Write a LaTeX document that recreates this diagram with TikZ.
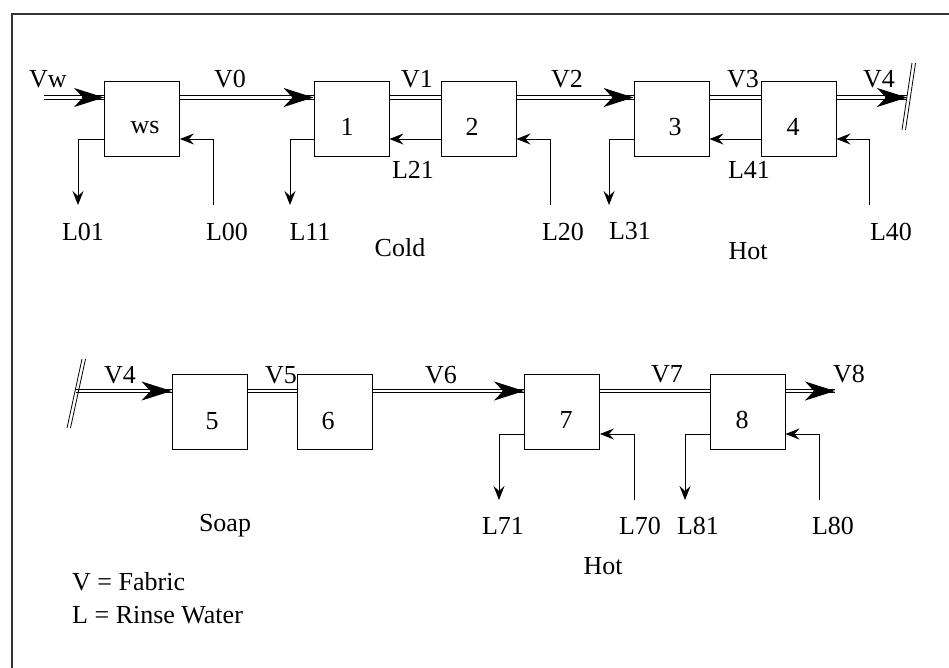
\documentclass[tikz,border=0pt]{standalone}
\usepackage{fontspec}
\setmainfont{Liberation Serif}
\usetikzlibrary{arrows.meta,calc}
\tikzset{
  box/.style={draw, line width=0.9pt, minimum width=75pt, minimum height=75pt, inner sep=0pt},
  lbl/.style={inner sep=0pt},
  fab/.style={line width=0.9pt},
  fabtip/.style={line width=0.9pt, -{Stealth[length=30pt,width=19pt,inset=9pt]}},
  rinse/.style={line width=0.9pt},
  rinsearr/.style={rinse, -{Stealth[length=14pt,width=11pt,inset=5pt]}},
  brk/.style={line width=0.8pt},
  frame/.style={line width=1.4pt, black!80}
}
\begin{document}
\begin{tikzpicture}[x=1pt,y=-1pt,font=\fontsize{26}{30}\selectfont]
\useasboundingbox (0,0) rectangle (949,668);
\draw[frame] (949,14) -- (12,14) -- (12,668);

% row levels
\coordinate (r1) at (0,97.5);
\coordinate (r1a) at (0,95.9);
\coordinate (r1b) at (0,99.1);
\coordinate (r1L) at (0,139);
\coordinate (r2) at (0,391);
\coordinate (r2a) at (0,389.4);
\coordinate (r2b) at (0,392.6);
\coordinate (r2L) at (0,434);

% boxes row 1
\node[box] (ws) at (142,118.5) {};
\node[box] (b1) at (351.5,118.5) {};
\node[box] (b2) at (478.5,118.5) {};
\node[box] (b3) at (671.5,118.5) {};
\node[box] (b4) at (798.5,118.5) {};
% boxes row 2
\node[box] (b5) at (209.5,412) {};
\node[box] (b6) at (335,412) {};
\node[box] (b7) at (562,412) {};
\node[box] (b8) at (747.5,412) {};

% box texts
\node[lbl] (tws) at (145,128) {ws};
\node[lbl] (t1) at (347,127) {1};
\node[lbl] (t2) at (472,127) {2};
\node[lbl] (t3) at (675,127) {3};
\node[lbl] (t4) at (793,127) {4};
\node[lbl] (t5) at (212,421) {5};
\node[lbl] (t6) at (328,421) {6};
\node[lbl] (t7) at (566,420) {7};
\node[lbl] (t8) at (742,420) {8};

% free ends
\coordinate (vwin) at (44,97.5);
\coordinate (brk1) at (907,97.5);
\coordinate (brk2) at (76,391);
\coordinate (v8out) at (835,391);
\coordinate (l01) at (78,205);
\coordinate (l00) at (213,205);
\coordinate (l11) at (290,205);
\coordinate (l20) at (550,205);
\coordinate (l31) at (609,205);
\coordinate (l40) at (869,205);
\coordinate (l71) at (499,500);
\coordinate (l70) at (634,500);
\coordinate (l81) at (685,500);
\coordinate (l80) at (819,500);

% fabric flow row 1 (double lines drawn as two strokes)
\foreach \p/\q in {vwin/ws.west, ws.east/b1.west, b1.east/b2.west, b2.east/b3.west, b3.east/b4.west, b4.east/brk1}{
  \draw[fab] (\p |- r1a) -- (\q |- r1a);
  \draw[fab] (\p |- r1b) -- (\q |- r1b);
}
\foreach \q in {ws.west, b1.west, b3.west, brk1}{
  \draw[fabtip] ($(\q |- r1)+(-22,0)$) -- (\q |- r1);
}
% break marks
\draw[brk] (902,130) -- (912,63);
\draw[brk] (905.5,130) -- (915.5,63);
\draw[brk] (67,428) -- (82,359);
\draw[brk] (70.5,428) -- (85.5,359);
% fabric flow row 2
\foreach \p/\q in {brk2/b5.west, b5.east/b6.west, b6.east/b7.west, b7.east/b8.west, b8.east/v8out}{
  \draw[fab] (\p |- r2a) -- (\q |- r2a);
  \draw[fab] (\p |- r2b) -- (\q |- r2b);
}
\foreach \q in {b5.west, b7.west, v8out}{
  \draw[fabtip] ($(\q |- r2)+(-22,0)$) -- (\q |- r2);
}

% rinse water row 1
\draw[rinsearr] (ws.west |- r1L) -| (l01);
\draw[rinsearr] (l00) |- (ws.east |- r1L);
\draw[rinsearr] (b1.west |- r1L) -| (l11);
\draw[rinsearr] (b2.west |- r1L) -- (b1.east |- r1L);
\draw[rinsearr] (l20) |- (b2.east |- r1L);
\draw[rinsearr] (b3.west |- r1L) -| (l31);
\draw[rinsearr] (b4.west |- r1L) -- (b3.east |- r1L);
\draw[rinsearr] (l40) |- (b4.east |- r1L);
% rinse water row 2
\draw[rinsearr] (b7.west |- r2L) -| (l71);
\draw[rinsearr] (l70) |- (b7.east |- r2L);
\draw[rinsearr] (b8.west |- r2L) -| (l81);
\draw[rinsearr] (l80) |- (b8.east |- r2L);

% labels row 1
\node[lbl] (lVw) at (48,79) {Vw};
\node[lbl] (lV0) at (230,79) {V0};
\node[lbl] (lV1) at (417,79) {V1};
\node[lbl] (lV2) at (567,79) {V2};
\node[lbl] (lV3) at (743,79) {V3};
\node[lbl] (lV4) at (879,79) {V4};
\node[lbl] (lL01) at (83,231.5) {L01};
\node[lbl] (lL00) at (227,231.5) {L00};
\node[lbl] (lL11) at (310,231.5) {L11};
\node[lbl] (lL21) at (413,170) {L21};
\node[lbl] (lL20) at (563,231.5) {L20};
\node[lbl] (lL31) at (630,231.5) {L31};
\node[lbl] (lL41) at (749,170) {L41};
\node[lbl] (lL40) at (891,231.5) {L40};
\node[lbl] (lcold) at (400,248) {Cold};
\node[lbl] (lhot1) at (748,251) {Hot};
% labels row 2
\node[lbl] (lV4b) at (120,375) {V4};
\node[lbl] (lV5) at (281,375) {V5};
\node[lbl] (lV6) at (441,375) {V6};
\node[lbl] (lV7) at (667,374) {V7};
\node[lbl] (lV8) at (849,374) {V8};
\node[lbl] (lL71) at (503,526) {L71};
\node[lbl] (lL70) at (640,526) {L70};
\node[lbl] (lL81) at (698,526) {L81};
\node[lbl] (lL80) at (833,526) {L80};
\node[lbl] (lhot2) at (603,566) {Hot};
\node[lbl] (lsoap) at (225,526) {Soap};
\node[lbl, anchor=west] (leg1) at (72,582) {V = Fabric};
\node[lbl, anchor=west] (leg2) at (72,615) {L = Rinse Water};
\end{tikzpicture}
\end{document}
